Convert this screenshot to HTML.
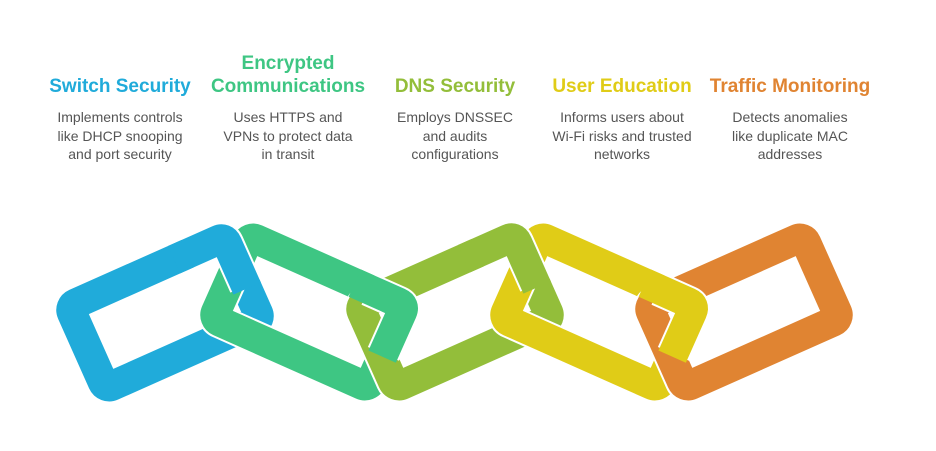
<!DOCTYPE html>
<html><head><meta charset="utf-8"><style>
body{margin:0;width:936px;height:451px;background:#fff;overflow:hidden;position:relative;font-family:"Liberation Sans",Arial,sans-serif}
.c{position:absolute;width:170px;text-align:center}
.t{font-weight:bold;font-size:19px;line-height:23px;position:absolute;width:100%;bottom:0}
.tw{position:absolute;left:0;width:100%;height:50px;top:48px}
.b{position:absolute;top:108px;left:15px;width:140px;font-size:14px;line-height:18.5px;color:#555}
</style></head><body>
<div class="c" style="left:35px"><div class="tw"><div class="t" style="color:#20ABDA">Switch Security</div></div><div class="b">Implements controls like DHCP snooping and port security</div></div>
<div class="c" style="left:203px"><div class="tw"><div class="t" style="color:#3EC683">Encrypted Communications</div></div><div class="b">Uses HTTPS and VPNs to protect data in transit</div></div>
<div class="c" style="left:370px"><div class="tw"><div class="t" style="color:#93BE3A">DNS Security</div></div><div class="b">Employs DNSSEC and audits configurations</div></div>
<div class="c" style="left:537px"><div class="tw"><div class="t" style="color:#E0CC17">User Education</div></div><div class="b">Informs users about Wi-Fi risks and trusted networks</div></div>
<div class="c" style="left:705px"><div class="tw"><div class="t" style="color:#E08432">Traffic Monitoring</div></div><div class="b">Detects anomalies like duplicate MAC addresses</div></div>
<svg width="936" height="451" style="position:absolute;left:0;top:0">
<defs>
<g id="R"><rect x="-85" y="-45" width="170" height="90" rx="7" fill="none" stroke="#fff" stroke-width="34"/></g>
</defs>
<g transform="translate(165,313) rotate(-24)"><rect x="-85" y="-45" width="170" height="90" rx="7" fill="none" stroke="#fff" stroke-width="34"/><rect x="-85" y="-45" width="170" height="90" rx="7" fill="none" stroke="#20ABDA" stroke-width="30"/></g>
<g transform="translate(309,312) rotate(24)"><rect x="-85" y="-45" width="170" height="90" rx="7" fill="none" stroke="#fff" stroke-width="34"/><rect x="-85" y="-45" width="170" height="90" rx="7" fill="none" stroke="#3EC683" stroke-width="30"/></g>
<g transform="translate(165,313) rotate(-24)"><path d="M45 -45 L78 -45 Q85 -45 85 -38 L85 8" fill="none" stroke="#fff" stroke-width="34"/><path d="M30 -45 L78 -45 Q85 -45 85 -38 L85 11" fill="none" stroke="#20ABDA" stroke-width="30"/></g>
<g transform="translate(455,312) rotate(-24)"><rect x="-85" y="-45" width="170" height="90" rx="7" fill="none" stroke="#fff" stroke-width="34"/><rect x="-85" y="-45" width="170" height="90" rx="7" fill="none" stroke="#93BE3A" stroke-width="30"/></g>
<g transform="translate(309,312) rotate(24)"><path d="M45 -45 L78 -45 Q85 -45 85 -38 L85 8" fill="none" stroke="#fff" stroke-width="34"/><path d="M30 -45 L78 -45 Q85 -45 85 -38 L85 11" fill="none" stroke="#3EC683" stroke-width="30"/></g>
<g transform="translate(599,312) rotate(24)"><rect x="-85" y="-45" width="170" height="90" rx="7" fill="none" stroke="#fff" stroke-width="34"/><rect x="-85" y="-45" width="170" height="90" rx="7" fill="none" stroke="#E0CC17" stroke-width="30"/></g>
<g transform="translate(455,312) rotate(-24)"><path d="M45 -45 L78 -45 Q85 -45 85 -38 L85 8" fill="none" stroke="#fff" stroke-width="34"/><path d="M30 -45 L78 -45 Q85 -45 85 -38 L85 11" fill="none" stroke="#93BE3A" stroke-width="30"/></g>
<g transform="translate(744,312) rotate(-24)"><rect x="-85" y="-45" width="170" height="90" rx="7" fill="none" stroke="#fff" stroke-width="34"/><rect x="-85" y="-45" width="170" height="90" rx="7" fill="none" stroke="#E08432" stroke-width="30"/></g>
<g transform="translate(599,312) rotate(24)"><path d="M45 -45 L78 -45 Q85 -45 85 -38 L85 8" fill="none" stroke="#fff" stroke-width="34"/><path d="M30 -45 L78 -45 Q85 -45 85 -38 L85 11" fill="none" stroke="#E0CC17" stroke-width="30"/></g>
</svg>
</body></html>
